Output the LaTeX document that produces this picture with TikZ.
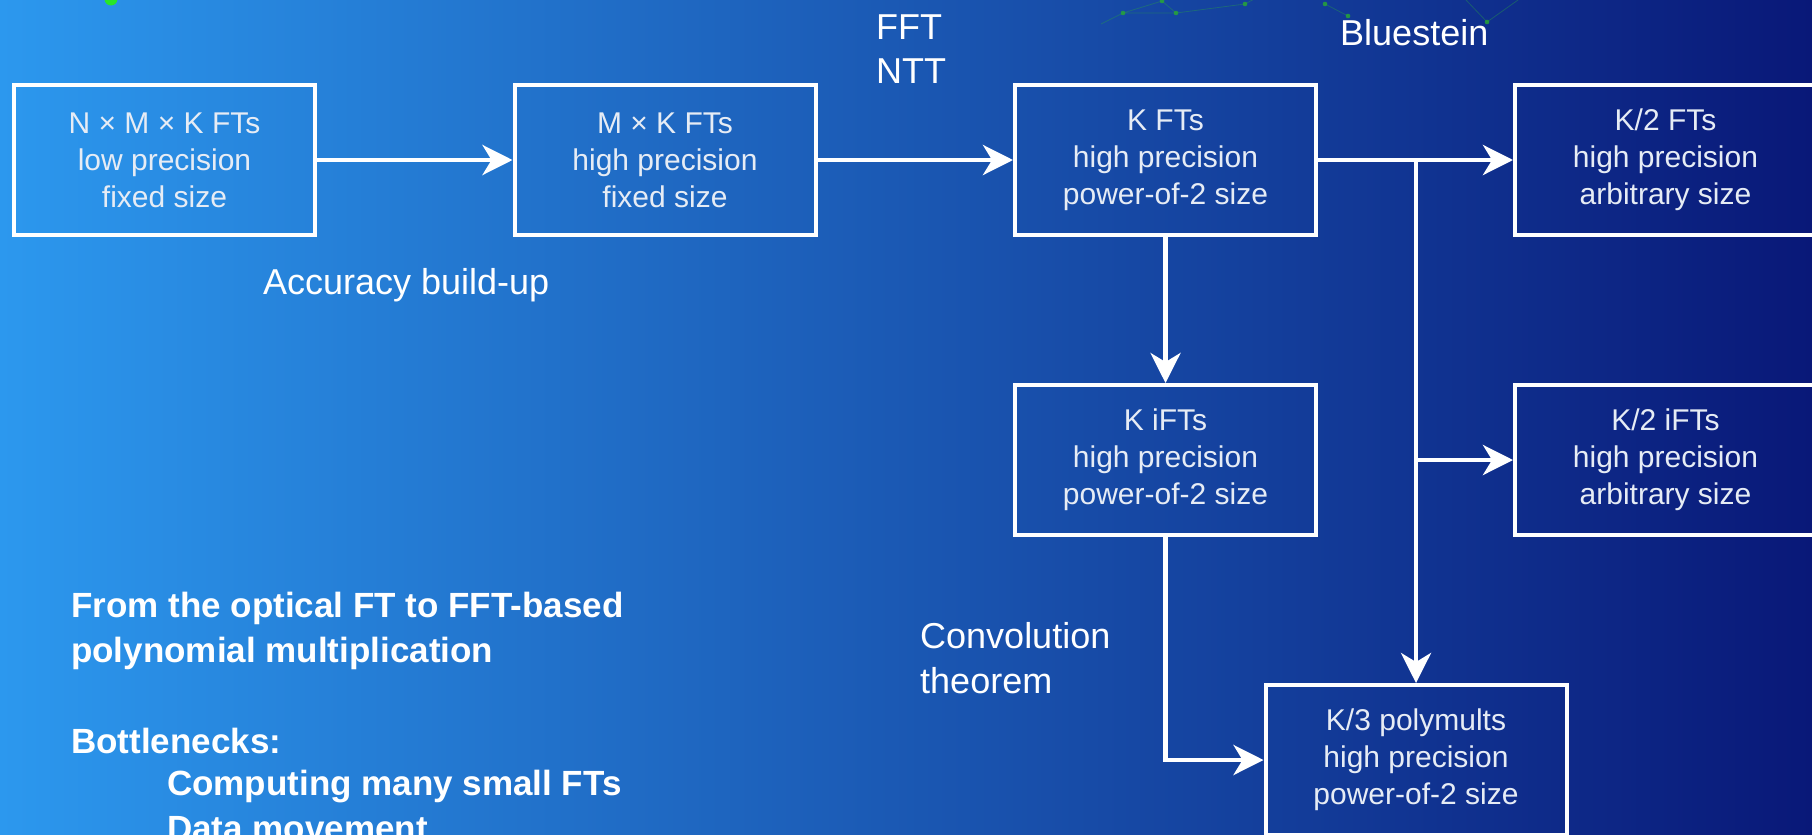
\documentclass[tikz,border=0pt]{standalone}
\usepackage{fontspec}
\setmainfont{Liberation Sans}
\usetikzlibrary{arrows.meta}
\definecolor{bgL}{RGB}{44,152,238}
\definecolor{bgM}{RGB}{26,88,186}
\definecolor{bgR}{RGB}{9,24,120}
\definecolor{boxtext}{RGB}{230,236,245}
\definecolor{netgreen}{RGB}{40,160,70}
\definecolor{dotgreen}{RGB}{40,170,50}
\definecolor{brightgreen}{RGB}{40,230,40}
\begin{document}
\begin{tikzpicture}[x=1pt,y=-1pt,
  box/.style={draw=white, line width=4pt, minimum width=301pt, minimum height=150pt,
    inner sep=0pt, text=boxtext, align=center, font=\fontsize{30}{37}\selectfont,
    execute at begin node={\rule{0pt}{26pt}}},
  arr/.style={draw=white, line width=4.5pt, -{Stealth[length=30pt,width=30pt,inset=9pt]}},
  lbl/.style={text=white, inner sep=0pt, anchor=base west, font=\fontsize{36}{44}\selectfont},
  boldlbl/.style={text=white, inner sep=0pt, anchor=base west, font=\fontsize{35}{45}\selectfont\bfseries},
  net/.style={draw=netgreen, opacity=0.4, line width=0.8pt},
  netdot/.style={fill=dotgreen, opacity=0.8},
]
\useasboundingbox (0,0) rectangle (1812,835);
\clip (0,0) rectangle (1812,835);
\shade[left color=bgL, middle color=bgM, right color=bgR] (0,0) rectangle (1812,835);

% faint background decoration
\fill[brightgreen] (111,-1) circle (6.5);
\draw[net] (1101,24) -- (1123,13) -- (1162,1) -- (1176,13) -- (1123,13);
\draw[net] (1176,13) -- (1245,4) -- (1256,-2);
\draw[net] (1325,4) -- (1348,16);
\draw[net] (1466,0) -- (1487,22) -- (1518,0);
\foreach \p in {(1123,13),(1176,13),(1162,1),(1245,4),(1325,4),(1348,16),(1487,22)}
  \fill[netdot] \p circle (2.3);

% boxes
\node[box] (a) at (164.5,160) {N × M × K FTs\\low precision\\fixed size};
\node[box] (b) at (665,160) {M × K FTs\\high precision\\fixed size};
\node[box] (c) at (1165.5,160) {K FTs\\high precision\\power-of-2 size};
\node[box] (d) at (1665.5,160) {K/2 FTs\\high precision\\arbitrary size};
\node[box] (e) at (1165.5,460) {K iFTs\\high precision\\power-of-2 size};
\node[box] (f) at (1665.5,460) {K/2 iFTs\\high precision\\arbitrary size};
\node[box] (g) at (1416,760) {K/3 polymults\\high precision\\power-of-2 size};

% connectors
\draw[arr] (a) -- (b);
\draw[arr] (b) -- (c);
\draw[arr] (c) -- (d);
\coordinate (br) at (1416,160);
\draw[arr] (br) -- (g);
\draw[arr] (br |- f.west) -- (f.west);
\draw[arr] (c) -- (e);
\draw[arr] (e.south) |- (g.west);

% labels
\node[lbl] (fft) at (876,39) {FFT};
\node[lbl] (ntt) at (876,83) {NTT};
\node[lbl] (blue) at (1340,45) {Bluestein};
\node[lbl] (acc) at (263,294) {Accuracy build-up};
\node[lbl] (conv1) at (920,648) {Convolution};
\node[lbl] (conv2) at (920,693) {theorem};

% bold text
\node[boldlbl] (t1) at (71,617) {From the optical FT to FFT-based};
\node[boldlbl] (t2) at (71,662) {polynomial multiplication};
\node[boldlbl] (t3) at (71,753) {Bottlenecks:};
\node[boldlbl] (t4) at (167,795) {Computing many small FTs};
\node[boldlbl] (t5) at (167,840) {Data movement};
\end{tikzpicture}
\end{document}
